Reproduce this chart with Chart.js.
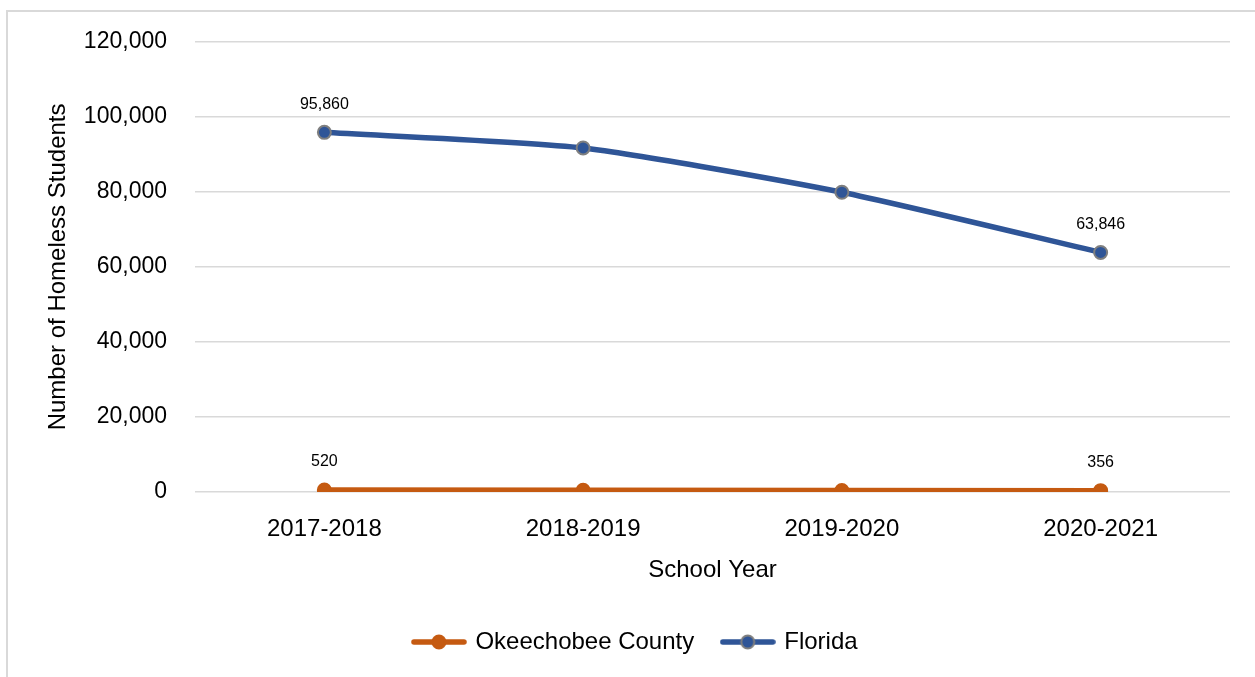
<!DOCTYPE html>
<html>
<head>
<meta charset="utf-8">
<script src="https://cdn.jsdelivr.net/npm/chart.js@4/dist/chart.umd.min.js"></script>
<style>
html, body { margin: 0; padding: 0; background: #fff; overflow: hidden; }
#frame { position: absolute; left: 6px; top: 10px; width: 1400px; height: 800px; border: 2px solid #d9d9d9; }
#wrap { position: absolute; left: 0; top: 0; width: 1255px; height: 677px; }
</style>
</head>
<body>
<div id="frame"></div>
<div id="wrap"><canvas id="chart"></canvas></div>
<script>
var years = ['2017-2018', '2018-2019', '2019-2020', '2020-2021'];
var okeechobee = [520, 470, 400, 356];
var florida = [95860, 91700, 79900, 63846];
var yTicks = [0, 20000, 40000, 60000, 80000, 100000, 120000];
var labelIdx = [0, 3]; // points that carry a value label

var orange = '#C55A11';
var blue = '#2F5597';
var font = 'Liberation Sans, Arial, sans-serif';

function legendMark(fill, stroke){
	var c = document.createElement('canvas');
	c.width = 56; c.height = 18;
	var g = c.getContext('2d');
	g.strokeStyle = fill;
	g.lineWidth = 5.5;
	g.lineCap = 'round';
	g.beginPath(); g.moveTo(3, 9); g.lineTo(53, 9); g.stroke();
	g.fillStyle = fill;
	g.strokeStyle = stroke;
	g.lineWidth = 2;
	g.beginPath(); g.arc(28, 9, 6.5, 0, Math.PI * 2); g.fill(); g.stroke();
	return c;
}
var marks = [legendMark(orange, orange), legendMark(blue, '#7F7F7F')];

var valueLabels = {
	id: 'valueLabels',
	afterDatasetsDraw: function(chart){
		var ctx = chart.ctx;
		ctx.save();
		ctx.font = '16px ' + font;
		ctx.fillStyle = '#000';
		ctx.textAlign = 'center';
		ctx.textBaseline = 'middle';
		chart.data.datasets.forEach(function(ds, i){
			var meta = chart.getDatasetMeta(i);
			labelIdx.forEach(function(j){
				var pt = meta.data[j];
				ctx.fillText(ds.data[j].toLocaleString('en-US'), pt.x, pt.y - 28);
			});
		});
		ctx.restore();
	}
};

var config = {};
config.type = 'line';
config.data = {};
config.data.labels = years;
config.data.datasets = [
	{
		label: 'Okeechobee County',
		data: okeechobee,
		borderColor: orange,
		backgroundColor: orange,
		pointBackgroundColor: orange,
		pointBorderColor: orange,
		pointBorderWidth: 2,
		pointRadius: 6.5,
		borderWidth: 5.5,
		tension: 0
	},
	{
		label: 'Florida',
		data: florida,
		borderColor: blue,
		backgroundColor: blue,
		pointBackgroundColor: blue,
		pointBorderColor: '#7F7F7F',
		pointBorderWidth: 2,
		pointRadius: 6.5,
		borderWidth: 5.5,
		tension: 0.2
	}
];
config.options = {
	responsive: true,
	maintainAspectRatio: false,
	animation: false,
	layout: { padding: { left: 42, right: 25, top: 41, bottom: 13 } },
	plugins: {
		tooltip: { enabled: false },
		legend: {
			position: 'bottom',
			labels: {
				usePointStyle: true,
				pointStyleWidth: 49,
				padding: 29,
				color: '#000',
				font: { family: font, size: 24 },
				generateLabels: function(chart){
					return chart.data.datasets.map(function(ds, i){
						return { text: ds.label, pointStyle: marks[i], datasetIndex: i, fontColor: '#000', lineWidth: 0, hidden: false };
					});
				}
			}
		}
	},
	scales: {
		x: {
			offset: true,
			grid: { display: false },
			border: { display: false },
			ticks: { color: '#000', padding: 15, font: { family: font, size: 24 } },
			title: { display: true, text: 'School Year', color: '#000', padding: { top: 0, bottom: 16 }, font: { family: font, size: 24 } },
			afterFit: function(s){ s.height = 109; }
		},
		y: {
			min: 0,
			max: 120000,
			afterBuildTicks: function(s){ s.ticks = yTicks.map(function(v){ return { value: v }; }); },
			grid: { color: '#d9d9d9', lineWidth: 1.5, drawTicks: false },
			border: { display: false },
			ticks: {
				color: '#000', padding: 28, font: { family: font, size: 23 },
				callback: function(v){ return v.toLocaleString('en-US'); }
			},
			title: { display: true, text: 'Number of Homeless Students', color: '#000', padding: { top: 2, bottom: 0 }, font: { family: font, size: 24 } },
			afterFit: function(s){ s.width = 153; }
		}
	}
};
config.plugins = [valueLabels];

new Chart(document.getElementById('chart'), config);
</script>
</body>
</html>
